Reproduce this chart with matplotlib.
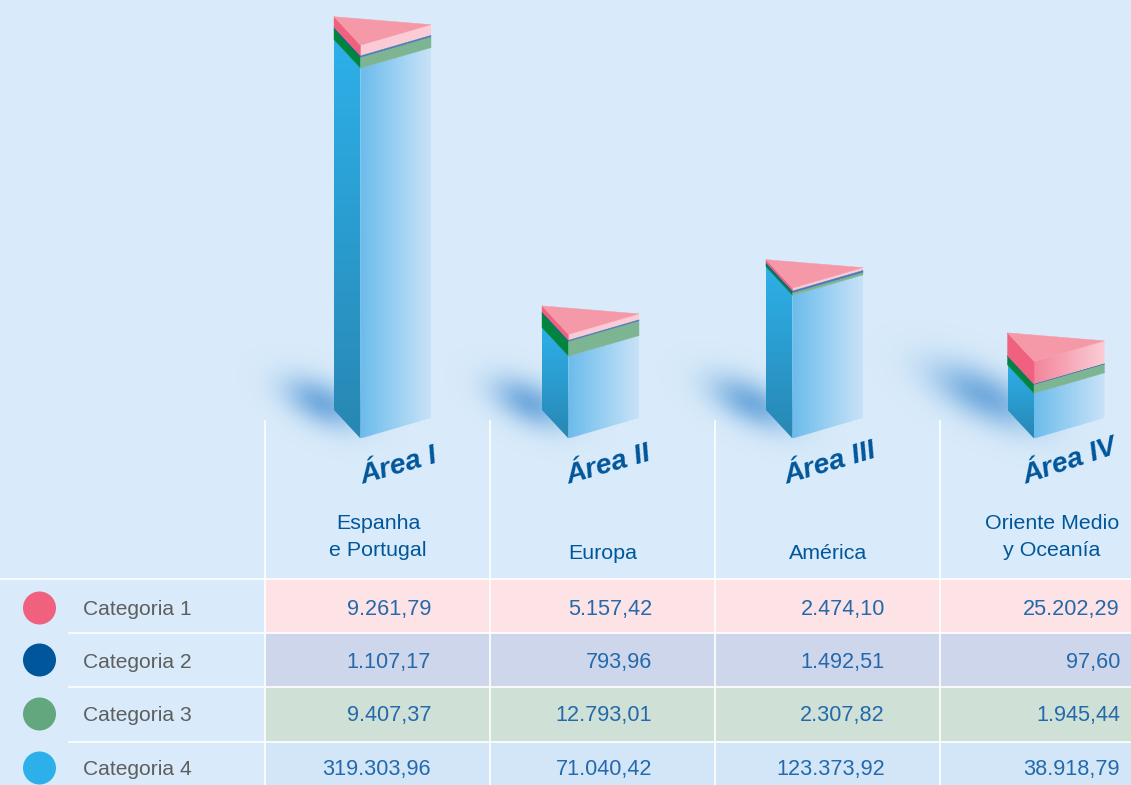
import numpy as np
import matplotlib
matplotlib.use("Agg")
import matplotlib.pyplot as plt
from matplotlib.colors import to_rgb, LinearSegmentedColormap
from matplotlib.patches import Polygon, Circle, Rectangle

plt.rcParams['font.family'] = ['Liberation Sans', 'DejaVu Sans']

# ---------- data ----------
areas = ["Área I", "Área II", "Área III", "Área IV"]
regions = [["Espanha", "e Portugal"], ["Europa"], ["América"], ["Oriente Medio", "y Oceanía"]]
categories = ["Categoria 1", "Categoria 2", "Categoria 3", "Categoria 4"]
# values printed in the table
cat1 = [9261.79, 5157.42, 2474.10, 25202.29]
cat2 = [1107.17, 793.96, 1492.51, 97.60]
cat3 = [9407.37, 12793.01, 2307.82, 1945.44]
cat4 = [319303.96, 71040.42, 123373.92, 38918.79]
# segment sizes as drawn in the picture: the Área IV bar splits pink/green
# differently from its printed values, the other bars follow the table
drawn_cat1 = [9261.79, 5157.42, 2474.10, 19800.0]
drawn_cat3 = [9407.37, 12793.01, 2307.82, 7700.0]

# ---------- layout and style ----------
W, H = 1131, 785
BASE_PX = 438.5
PX_PER_UNIT = 0.00116
bar_left = [334, 542, 766, 1007.5]
FRONT_DX, RIGHT_DX = 26.5, 97
LEFT_DY, RIGHT_DY = 28.5, 20.5
BG = "#d9ebfa"
DOT = ["#f0617f", "#00569a", "#62a77e", "#2db0e9"]
CELL = ["#fde2e6", "#ced6eb", "#cfe0d6", "#d2e6f8"]
LEFT_FACE = ["#f0607f", "#00569a", "#00843f", None]
RIGHT_FLAT = [None, "#4a78b8", "#7db492", None]
PINK_START = ["#fbcbd5", "#fbcbd5", "#fbcbd5", "#f3859b"]
shadows = [(322, 403, 28, 15), (530, 403, 28, 15), (752, 403, 31, 15), (985, 396, 40, 17)]
row_top = [578.5, 632.5, 686.5, 741.5, 785]
row_base = [615, 668, 721, 775]
col_lines = [265, 490, 715, 940, 1131]
col_right = [431, 652, 885, 1120]
dot_y = [608, 660, 714, 768]
region_x = [378, 603, 828, 1052]
area_pos = [(363, 484, 16), (569, 484, 16), (787, 484, 16.5), (1026, 484, 18.5)]
TXT_BLUE = "#00569a"
NUM_BLUE = "#2369ab"
GREY = "#5e5e5e"


def fmt(v):
    return f"{v:,.2f}".replace(",", "X").replace(".", ",").replace("X", ".")


fig = plt.figure(figsize=(W / 100, H / 100), dpi=100, facecolor=BG)

# pixel-coordinate axes for table furniture and soft shadows
axp = fig.add_axes([0, 0, 1, 1], facecolor=BG)
axp.axis("off")

# soft shadows
xx, yy = np.meshgrid(np.arange(W) + .5, np.arange(500) + .5)
alpha = np.zeros_like(xx)
ang = np.deg2rad(26)
for cx, cy, sa, sb in shadows:
    u = (xx - cx) * np.cos(ang) + (yy - cy) * np.sin(ang)
    v = -(xx - cx) * np.sin(ang) + (yy - cy) * np.cos(ang)
    alpha = np.maximum(alpha, 0.95 * np.exp(-.5 * (u / sa) ** 2 - .5 * (v / sb) ** 2))
rgba = np.zeros(xx.shape + (4,))
rgba[..., :3] = to_rgb("#6fa9dd")
rgba[..., 3] = alpha
axp.imshow(rgba, extent=(0, W, 500, 0), aspect="auto", zorder=1, interpolation="bilinear")
axp.set_xlim(0, W)
axp.set_ylim(H, 0)

# table
for r in range(4):
    for c in range(4):
        axp.add_patch(Rectangle((col_lines[c], row_top[r]), col_lines[c + 1] - col_lines[c],
                                row_top[r + 1] - row_top[r], fc=CELL[r], ec="none", zorder=2))
axp.plot([0, W], [row_top[0]] * 2, color="white", lw=1.2, zorder=3)
for y in row_top[1:4]:
    axp.plot([69, W], [y, y], color="white", lw=1.2, zorder=3)
for x in col_lines[:4]:
    axp.plot([x, x], [421, H], color="white", lw=1.2, zorder=3)

series = [cat1, cat2, cat3, cat4]
for r in range(4):
    axp.add_patch(Circle((39.5, dot_y[r]), 16.5, fc=DOT[r], ec="none", zorder=4))
    axp.text(83, row_base[r], categories[r], color=GREY, fontsize=15.1, va="baseline", zorder=5)
    for c in range(4):
        axp.text(col_right[c], row_base[r], fmt(series[r][c]), color=NUM_BLUE, fontsize=15.6,
                 ha="right", va="baseline", zorder=5)

for c in range(4):
    lines = regions[c]
    ys = [529, 556] if len(lines) == 2 else [559]
    for t, y in zip(lines, ys):
        axp.text(region_x[c], y, t, color=TXT_BLUE, fontsize=15.4, ha="center", va="baseline", zorder=5)
    x0, y0, rot = area_pos[c]
    axp.text(x0, y0, areas[c], color=TXT_BLUE, fontsize=20.5, style="italic", weight="bold",
             rotation=rot, rotation_mode="anchor", ha="left", va="baseline", zorder=5)

# bars: x in pixels, y in data units, scale fixed by limits
ax = fig.add_axes([0, 0, 1, 1], facecolor="none")
ylim = ((BASE_PX - H) / PX_PER_UNIT, BASE_PX / PX_PER_UNIT)
ax.axis("off")


def grad(poly, c0, c1, horizontal, extent):
    cmap = LinearSegmentedColormap.from_list("g", [c0, c1])
    ramp = np.linspace(0, 1, 256)
    img = ramp[None, :] if horizontal else ramp[:, None]
    im = ax.imshow(img, cmap=cmap, extent=extent, aspect="auto", origin="lower", zorder=3, vmin=0, vmax=1)
    patch = Polygon(poly, closed=True, transform=ax.transData, fc="none", ec="none")
    ax.add_patch(patch)
    im.set_clip_path(patch)


for i in range(4):
    xl = bar_left[i]
    xf, xr = xl + FRONT_DX, xl + RIGHT_DX
    dl, dr = LEFT_DY / PX_PER_UNIT, RIGHT_DY / PX_PER_UNIT
    bottom_off = 0.0
    # stack order from bottom: cat4, cat3, cat2, cat1
    stack = [(3, cat4[i]), (2, drawn_cat3[i]), (1, cat2[i]), (0, drawn_cat1[i])]
    for idx, val in stack:
        y0, y1 = bottom_off, bottom_off + val
        left = [(xl, y0 + dl), (xf, y0), (xf, y1), (xl, y1 + dl)]
        right = [(xf, y0), (xr, y0 + dr), (xr, y1 + dr), (xf, y1)]
        if idx == 3:
            grad(left, "#2887b3", "#2db0e9", False, (xl, xf, y0, y1 + dl))
            grad(right, "#6cbcec", "#c9e3f8", True, (xf, xr, y0, y1 + dr))
        elif idx == 0:
            ax.add_patch(Polygon(left, fc=LEFT_FACE[idx], ec=LEFT_FACE[idx], lw=.3, zorder=4))
            grad(right, PINK_START[i], "#fbcdd6", True, (xf, xr, y0, y1 + dr))
        else:
            ax.add_patch(Polygon(left, fc=LEFT_FACE[idx], ec=LEFT_FACE[idx], lw=.3, zorder=4))
            ax.add_patch(Polygon(right, fc=RIGHT_FLAT[idx], ec=RIGHT_FLAT[idx], lw=.3, zorder=4))
        bottom_off = y1
    top = [(xl, bottom_off + dl), (xf, bottom_off), (xr, bottom_off + dr)]
    ax.add_patch(Polygon(top, fc="#f599a9", ec="#f599a9", lw=.3, zorder=5))

ax.set_xlim(0, W)
ax.set_ylim(*ylim)

fig.savefig("out.png", dpi=100, facecolor=BG)
